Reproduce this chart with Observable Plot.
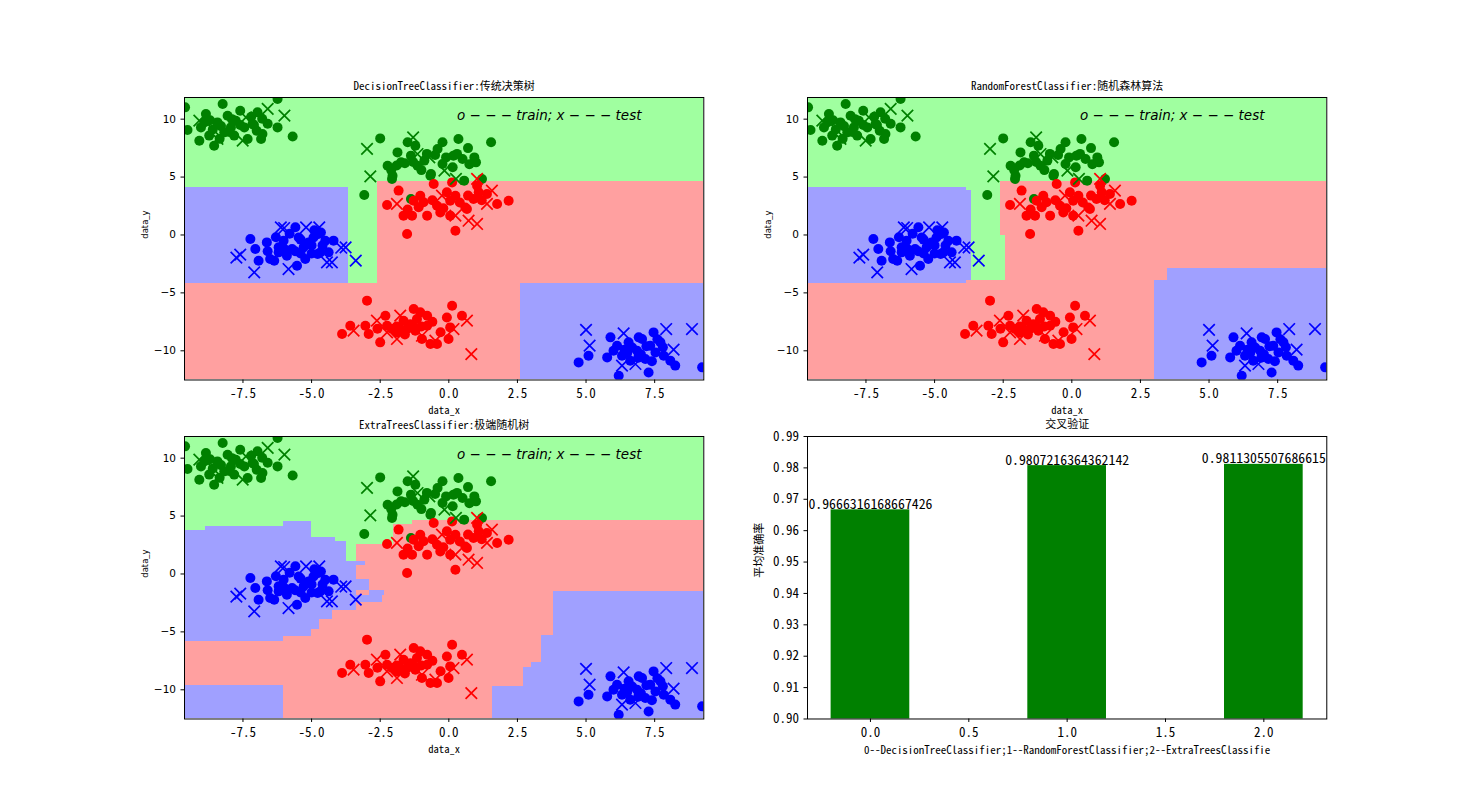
<!DOCTYPE html>
<html><head><meta charset="utf-8">
<script src="https://cdn.jsdelivr.net/npm/d3@7"></script>
<script src="https://cdn.jsdelivr.net/npm/@observablehq/plot@0.6"></script>
<style>
html,body{margin:0;padding:0;background:#fff;}
#fig{position:relative;width:1474px;height:807px;overflow:hidden;background:#fff;}
#fig svg{position:absolute;overflow:visible;}
</style></head><body><div id="fig"></div>
<script>
// ---------------- data ----------------
const X0 = -9.63, X1 = 9.29, Y0 = -12.52, Y1 = 11.87;
const xDomain = [X0, X1];
const yDomain = [Y0, Y1];
const xTicks = [-7.5, -5.0, -2.5, 0.0, 2.5, 5.0, 7.5];
const yTicks = [-10, -5, 0, 5, 10];

const trainGreen = [[-9.61,11.02],[-9.52,9.07],[-8.24,11.31],[-6.24,11.74],[-8.85,10.45],[-9.03,9.29],[-9.09,8.14],[-8.55,7.71],[-8.06,10.30],[-7.76,9.87],[-7.82,8.58],[-8.18,8.86],[-7.45,9.29],[-7.15,9.59],[-6.97,10.59],[-6.84,8.29],[-6.79,8.72],[-6.24,9.29],[-5.69,8.51],[-8.43,9.72],[-8.73,8.58],[-7.94,9.29],[-7.33,8.29],[-8.91,9.72],[-7.60,10.73],[-6.80,10.04],[-7.2,10.2],[-8.6,9.1],[-7.0,9.0],
  [-8.3,9.4],[-7.6,9.5],[-8.0,8.9],[-7.1,9.5],[-8.7,9.9],[-6.6,9.6],[-7.9,10.0],[-8.35,8.3],
  [-2.50,8.34],[-3.08,3.45],[-1.50,8.00],[-0.23,8.00],[0.35,8.29],[1.54,8.00],[-2.23,5.98],[-2.05,5.12],[-1.87,7.13],[-1.38,6.85],[-1.14,5.98],[-0.65,5.27],[-0.41,7.43],[-0.10,6.70],[0.50,6.56],[0.93,6.70],[0.99,6.27],[-0.23,6.13],[-1.74,6.27],[-0.89,6.42],[0.14,5.84],[0.56,4.69],[1.21,4.84],[-1.38,3.11],[-2.07,4.84],[-0.67,5.12],[0.17,6.85],[-1.22,7.71],[-1.6,6.2],[-0.5,6.9],[0.7,7.5],
  [-1.9,6.0],[-1.3,6.3],[-0.8,7.0],[0.3,7.0],[-2.1,5.6],[-1.0,5.6],[0.75,6.1]];
const testGreen = [[-6.60,10.88],[-5.99,10.30],[-9.09,9.87],[-8.55,9.01],[-8.43,8.29],[-7.51,8.14],[-7.39,10.16],
  [-2.98,7.43],[-2.86,5.06],[-1.30,8.43],[-1.14,6.99],[-0.71,6.70],[-0.16,5.55],[0.26,4.84]];
const trainRed = [[-1.83,3.83],[-2.25,2.59],[-1.52,0.09],[0.24,0.37],[-0.55,4.40],[-1.28,2.96],[-0.92,2.82],[-0.43,2.53],[0.05,2.96],[0.24,3.39],[-0.07,3.68],[-0.79,1.67],[-1.65,1.67],[-1.34,1.67],[0.05,1.67],[0.60,2.38],[0.90,3.11],[1.09,3.68],[1.39,3.54],[1.76,2.68],[2.18,2.96],[1.03,4.26],[-0.31,1.95],[-1.04,3.39],[0.12,4.54],[0.66,2.25],
  [-1.1,2.4],[-0.6,3.0],[0.4,2.8],[1.2,3.0],[-1.5,2.2],[0.7,3.4],[-0.2,2.3],
  [-2.98,-5.67],[-3.89,-8.55],[-3.59,-7.83],[-3.04,-7.83],[-2.92,-8.55],[-2.50,-9.27],[-2.31,-6.97],[-2.07,-8.12],[-1.89,-8.41],[-1.65,-7.40],[-1.52,-8.12],[-1.28,-6.39],[-1.16,-7.25],[-1.04,-6.68],[-1.22,-8.26],[-0.98,-8.98],[-0.79,-6.97],[-0.79,-7.83],[-0.67,-9.41],[-0.43,-9.41],[-0.07,-7.12],[0.12,-6.11],[0.05,-7.98],[-0.01,-8.98],[0.48,-6.97],[-1.77,-8.12],[-2.25,-7.83],[-1.4,-7.7],[-1.0,-7.9],
  [-1.9,-7.9],[-1.3,-7.9],[-0.6,-7.5],[-2.6,-8.1],[-1.6,-8.6],[-0.3,-8.4]];
const testRed = [[-1.89,2.68],[-0.25,3.39],[0.24,1.67],[0.72,1.23],[1.03,0.95],[1.03,4.84],[1.57,3.83],[1.39,2.68],
  [-3.47,-8.26],[-2.62,-7.40],[-2.25,-8.41],[-1.89,-8.98],[-1.77,-6.97],[-0.98,-8.70],[-0.49,-9.13],[0.17,-8.12],[0.66,-7.40],[0.82,-10.28]];
const trainBlue = [[-7.23,-0.35],[-7.05,-1.21],[-6.93,-2.22],[-6.63,-0.64],[-6.51,-2.07],[-6.20,-1.50],[-6.02,-0.49],[-5.90,-1.79],[-5.59,0.66],[-5.53,-2.65],[-5.47,-0.21],[-5.23,-2.07],[-5.11,-0.64],[-4.93,-0.21],[-4.75,0.09],[-4.68,-1.50],[-4.38,-1.50],[-4.20,-0.49],[-5.71,-1.21],[-5.29,-1.07],[-6.20,-1.07],[-4.66,0.22],[-4.78,-1.64],[-6.36,-2.22],[-5.99,-1.21],[-5.0,-0.9],[-5.4,-1.6],[-4.5,-0.5],[-5.8,0.1],
  [-6.6,-1.4],[-5.6,-1.4],[-5.0,-1.6],[-4.9,0.4],[-5.4,-0.4],[-6.3,-0.2],[-4.6,-0.9],
  [4.73,-11.00],[5.09,-10.42],[5.77,-10.57],[5.89,-8.84],[6.13,-9.56],[6.19,-12.15],[6.31,-10.42],[6.55,-9.27],[6.61,-10.85],[6.86,-9.99],[7.04,-8.98],[7.16,-10.71],[7.28,-11.87],[7.34,-9.56],[7.46,-8.41],[7.53,-10.14],[7.71,-9.27],[7.83,-10.42],[8.07,-10.85],[8.25,-11.28],[9.23,-11.43],[6.92,-8.84],[6.68,-9.71],[6.4,-9.9],[7.0,-10.3],[7.6,-9.0],
  [6.9,-10.6],[7.2,-9.6],[6.5,-10.2],[7.8,-9.7],[6.0,-10.0],[7.4,-10.9]];
const testBlue = [[-7.74,-1.96],[-7.60,-1.70],[-7.09,-3.23],[-6.12,0.66],[-6.0,0.6],[-5.20,0.66],[-4.72,0.66],[-5.84,-2.94],[-4.44,-2.37],[-4.26,-2.37],[-3.76,-1.07],[-3.92,-1.10],[-3.39,-2.22],
  [5.00,-8.20],[5.13,-9.56],[6.37,-8.50],[7.92,-8.12],[8.86,-8.12],[8.19,-9.90],[6.31,-11.28],[6.80,-11.14]];

// decision regions: [class, x1, x2, y1, y2], painted in order
const dtRegions = [
  ["green", X0, X1, Y0, Y1],
  ["blue", X0, -3.66, -4.18, 4.08],
  ["red", -2.61, X1, -4.18, 4.60],
  ["red", X0, 2.61, Y0, -4.18],
  ["blue", 2.61, X1, Y0, -4.18]
];
const rfRegions = [
  ["green", X0, X1, Y0, Y1],
  ["red", X0, X1, Y0, -3.94],
  ["red", -2.60, X1, -0.06, 4.60],
  ["red", -2.42, X1, -3.94, -0.06],
  ["blue", X0, -3.84, -4.17, 4.09],
  ["blue", -3.84, -3.65, -3.94, 3.83],
  ["blue", 3.01, X1, Y0, -3.94],
  ["blue", 3.49, X1, -3.94, -2.91]
];
const etRegions = [
  ["green", X0, X1, Y0, Y1],
  ["red", X0, X1, Y0, 1.04],
  ["red", -3.38, X1, 1.04, 2.57],
  ["red", -2.01, X1, 2.57, 4.30],
  ["red", -1.34, X1, 4.30, 4.65],
  ["blue", X0, -8.87, -5.86, 3.72],
  ["blue", -8.87, -6.03, -5.86, 4.07],
  ["blue", -6.03, -4.99, -5.41, 4.50],
  ["blue", -4.99, -4.72, -4.82, 3.14],
  ["blue", -4.72, -4.23, -3.96, 3.14],
  ["blue", -4.23, -4.14, -3.14, 3.14],
  ["blue", -4.14, -3.72, -3.14, 2.77],
  ["blue", -3.72, -3.38, -3.14, 1.04],
  ["blue", -3.38, -3.02, 0.70, 1.04],
  ["blue", -3.38, -2.90, -1.46, -0.45],
  ["blue", -2.90, -2.33, -1.89, -1.46],
  ["blue", -3.38, -2.41, -2.47, -1.89],
  ["blue", X0, -6.03, Y0, -9.66],
  ["blue", 1.60, X1, Y0, -9.74],
  ["blue", 2.73, X1, Y0, -8.06],
  ["blue", 3.02, X1, Y0, -7.65],
  ["blue", 3.39, X1, Y0, -5.33],
  ["blue", 3.82, X1, Y0, -1.54]
];
const panelTitles = ["DecisionTreeClassifier:传统决策树", "RandomForestClassifier:随机森林算法", "ExtraTreesClassifier:极端随机树"];
const legendText = "o − − − train; x − − − test";
const legendAt = [0.3, 10.3];

const barPositions = [0, 1, 2];
const barScores = [0.9666316168667426, 0.9807216364362142, 0.9811305507686615];
const barWidth = 0.4;
const barXDomain = [-0.32, 2.32];
const barYDomain = [0.90, 0.99];
const barXTicks = [0.0, 0.5, 1.0, 1.5, 2.0];
const barYTicks = [0.90, 0.91, 0.92, 0.93, 0.94, 0.95, 0.96, 0.97, 0.98, 0.99];
const barTitle = "交叉验证";
const barYLabel = "平均准确率";
const barXLabel = "0--DecisionTreeClassifier;1--RandomForestClassifier;2--ExtraTreesClassifie";

// ---------------- styles / layout ----------------
const pointColor = {green: "#008000", red: "#ff0000", blue: "#0000ff"};
const regionColor = {green: "#a0ffa0", red: "#ffa0a0", blue: "#a0a0ff"};
const MONO = '"Noto Sans Mono CJK SC", "DejaVu Sans Mono", "Noto Sans CJK SC", monospace';
const CJK = '"Noto Sans CJK SC", sans-serif';
const AX_W = 519.3, AX_H = 282.5;
const M = {l: 70, r: 20, t: 30, b: 50};
const axesPos = [[184.25, 96.8], [807.4, 96.8], [184.25, 435.8], [807.4, 435.8]];
const fig = document.getElementById("fig");

function place(svg, i) {
  svg.style.left = (axesPos[i][0] - M.l) + "px";
  svg.style.top = (axesPos[i][1] - M.t) + "px";
  fig.appendChild(svg);
}
const px = d => d[0], py = d => d[1];

function scatterPanel(i, regions) {
  const dots = (arr, cls) => Plot.dot(arr, {x: px, y: py, r: 5, fill: pointColor[cls], clip: true});
  const crosses = (arr, cls) => Plot.dot(arr, {x: px, y: py, r: 5.3, symbol: "times", stroke: pointColor[cls], strokeWidth: 1.7, clip: true});
  const svg = Plot.plot({
    width: AX_W + M.l + M.r, height: AX_H + M.t + M.b,
    marginLeft: M.l, marginRight: M.r, marginTop: M.t, marginBottom: M.b,
    x: {domain: xDomain}, y: {domain: yDomain},
    color: {type: "identity"},
    style: {background: "transparent", overflow: "visible", color: "black"},
    marks: [
      Plot.rect(regions, {x1: d => d[1], x2: d => d[2], y1: d => d[3], y2: d => d[4], fill: d => regionColor[d[0]], shapeRendering: "crispEdges"}),
      dots(trainGreen, "green"), dots(trainRed, "red"), dots(trainBlue, "blue"),
      crosses(testGreen, "green"), crosses(testRed, "red"), crosses(testBlue, "blue"),
      Plot.text([legendText], {x: legendAt[0], y: legendAt[1], text: d => d, textAnchor: "start", lineAnchor: "middle", fontSize: 13.5, fontStyle: "italic", fontFamily: "DejaVu Sans", fill: "black"}),
      Plot.axisX({ticks: xTicks, tickFormat: d => d.toFixed(1), tickSize: 3.5, tickPadding: 5, fontSize: 13, fontFamily: MONO, label: null}),
      Plot.axisY({ticks: yTicks, tickFormat: d3.format("d"), tickSize: 3.5, tickPadding: 5, fontSize: 10.5, fontFamily: "DejaVu Sans", label: null}),
      Plot.text([panelTitles[i]], {frameAnchor: "top", dy: -11.5, text: d => d, lineAnchor: "middle", fontSize: 11, fontFamily: MONO}),
      Plot.text(["data_x"], {frameAnchor: "bottom", dy: 31, text: d => d, lineAnchor: "middle", fontSize: 10.6, fontFamily: MONO}),
      Plot.text(["data_y"], {frameAnchor: "left", dx: -39, rotate: -90, text: d => d, lineAnchor: "middle", fontSize: 8.5, fontFamily: "DejaVu Sans"}),
      Plot.frame({stroke: "black", strokeWidth: 1})
    ]
  });
  place(svg, i);
}

scatterPanel(0, dtRegions);
scatterPanel(1, rfRegions);
scatterPanel(2, etRegions);

(function barPanel() {
  const svg = Plot.plot({
    width: AX_W + M.l + M.r, height: AX_H + M.t + M.b,
    marginLeft: M.l, marginRight: M.r, marginTop: M.t, marginBottom: M.b,
    x: {domain: barXDomain}, y: {domain: barYDomain},
    style: {background: "transparent", overflow: "visible", color: "black"},
    marks: [
      Plot.rect(barScores, {x1: (d, i) => barPositions[i] - barWidth / 2, x2: (d, i) => barPositions[i] + barWidth / 2, y1: () => barYDomain[0], y2: d => d, fill: "#008000"}),
      Plot.text(barScores, {x: (d, i) => barPositions[i], y: d => d, text: d => String(d), lineAnchor: "bottom", dy: -1, fontSize: 13.8, fontFamily: MONO, fill: "black"}),
      Plot.axisX({ticks: barXTicks, tickFormat: d3.format(".1f"), tickSize: 3.5, tickPadding: 5, fontSize: 13, fontFamily: MONO, label: null}),
      Plot.axisY({ticks: barYTicks, tickFormat: d3.format(".2f"), tickSize: 3.5, tickPadding: 5, fontSize: 13, fontFamily: MONO, label: null}),
      Plot.text([barTitle], {frameAnchor: "top", dy: -12, text: d => d, lineAnchor: "middle", fontSize: 11, fontFamily: CJK}),
      Plot.text([barXLabel], {frameAnchor: "bottom", dy: 31, text: d => d, lineAnchor: "middle", fontSize: 11, fontFamily: MONO}),
      Plot.text([barYLabel], {frameAnchor: "left", dx: -48, rotate: -90, text: d => d, lineAnchor: "middle", fontSize: 11, fontFamily: CJK}),
      Plot.frame({stroke: "black", strokeWidth: 1})
    ]
  });
  place(svg, 3);
})();
</script></body></html>
